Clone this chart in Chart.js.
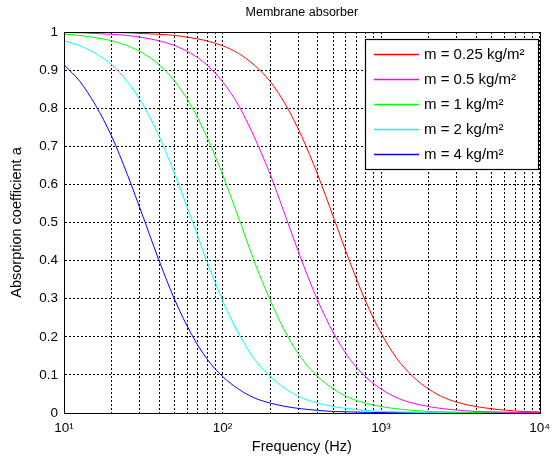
<!DOCTYPE html>
<html>
<head>
<meta charset="utf-8">
<script src="https://cdn.jsdelivr.net/npm/chart.js@4/dist/chart.umd.min.js"></script>
<style>
  html, body { margin: 0; padding: 0; background: #fff; }
  #wrap { width: 557px; height: 459px; }
</style>
</head>
<body>
<div id="wrap"><canvas id="c" width="557" height="459"></canvas></div>
<script>
// frequencies (Hz), roughly 1/10 decade steps
const freqs = [10, 12.6, 15.8, 20, 25.1, 31.6, 39.8, 50.1, 63.1, 79.4,
  100, 126, 158, 200, 251, 316, 398, 501, 631, 794,
  1000, 1259, 1585, 1995, 2512, 3162, 3981, 5012, 6310, 7943, 10000];

const masses = ['0.25', '0.5', '1', '2', '4'];

// absorption coefficient
const alpha025 = [0.9996, 0.9994, 0.9991, 0.9985, 0.998, 0.996, 0.994, 0.991, 0.985, 0.977,
  0.964, 0.944, 0.914, 0.870, 0.808, 0.726, 0.626, 0.514, 0.400, 0.296,
  0.210, 0.143, 0.096, 0.063, 0.040, 0.026, 0.017, 0.011, 0.007, 0.004, 0.003];
const alpha05 = [0.9985, 0.998, 0.996, 0.994, 0.991, 0.985, 0.977, 0.964, 0.944, 0.914,
  0.870, 0.808, 0.726, 0.626, 0.514, 0.400, 0.296, 0.210, 0.143, 0.096,
  0.063, 0.040, 0.026, 0.017, 0.011, 0.007, 0.004, 0.003, 0.002, 0.001, 0.0007];
const alpha1 = [0.994, 0.991, 0.985, 0.977, 0.964, 0.944, 0.914, 0.870, 0.808, 0.726,
  0.626, 0.514, 0.400, 0.296, 0.210, 0.143, 0.096, 0.063, 0.040, 0.026,
  0.017, 0.011, 0.007, 0.004, 0.003, 0.002, 0.001, 0.0007, 0.0004, 0.0003, 0.0002];
const alpha2 = [0.977, 0.964, 0.944, 0.914, 0.870, 0.808, 0.726, 0.626, 0.514, 0.400,
  0.296, 0.210, 0.143, 0.096, 0.063, 0.040, 0.026, 0.017, 0.011, 0.007,
  0.004, 0.003, 0.002, 0.001, 0.001, 0.0007, 0.0004, 0.0003, 0.0002, 0.0001, 0.0001];
const alpha4 = [0.914, 0.870, 0.808, 0.726, 0.626, 0.514, 0.400, 0.296, 0.210, 0.143,
  0.096, 0.063, 0.040, 0.026, 0.017, 0.011, 0.007, 0.004, 0.003, 0.002,
  0.001, 0.001, 0.0004, 0.0003, 0.0002, 0.0001, 0.0001, 0.0001, 0, 0, 0];

const xTickValues = [10, 100, 1000, 10000];
const xTickLabels = ['10\u00b9', '10\u00b2', '10\u00b3', '10\u2074'];
const yTickValues = [0, 0.1, 0.2, 0.3, 0.4, 0.5, 0.6, 0.7, 0.8, 0.9, 1];
const yTickLabels = ['0', '0.1', '0.2', '0.3', '0.4', '0.5', '0.6', '0.7', '0.8', '0.9', '1'];

const series = [alpha025, alpha05, alpha1, alpha2, alpha4];
const colors = ['#ff0000', '#ff00ff', '#00ff00', '#00ffff', '#0000ff'];

const FONT = 'Arial, "Liberation Sans", Helvetica, sans-serif';
Chart.defaults.font.family = FONT;
Chart.defaults.color = '#000';

const datasets = series.map((vals, i) => ({
  label: `m = ${masses[i]} kg/m\u00b2`,
  data: vals.map((v, j) => ({x: freqs[j], y: v})),
  borderColor: colors[i],
  backgroundColor: colors[i],
  borderWidth: 1,
  pointRadius: 0,
  cubicInterpolationMode: 'monotone',
  fill: false
}));

// minor grid positions 1..9 x 10^k
function logGrid(){
  const out = [];
  for (let k = 1; k < 4; k++) for (let d = 1; d < 10; d++) out.push({value: d * Math.pow(10, k)});
  out.push({value: 10000});
  return out;
}

const framePlugin = {
  id: 'frame',
  afterDatasetsDraw(chart){
    const {ctx, chartArea: a} = chart;
    ctx.save();
    // box around the axes
    ctx.strokeStyle = '#000';
    ctx.lineWidth = 1;
    ctx.strokeRect(Math.round(a.left) + 0.5, Math.round(a.top) + 0.5,
      Math.round(a.right - a.left), Math.round(a.bottom - a.top));

    // legend inside the axes, upper right
    const bw = 173, bh = 130;
    const bx = Math.round(a.right) - 2 - bw, by = Math.round(a.top) + 7;
    ctx.fillStyle = '#fff';
    ctx.fillRect(bx, by, bw, bh);
    ctx.lineWidth = 1.2;
    ctx.strokeRect(bx + 0.5, by + 0.5, bw, bh);
    ctx.font = '15px ' + FONT;
    ctx.textBaseline = 'middle';
    ctx.textAlign = 'left';
    chart.data.datasets.forEach((ds, i) => {
      const y = by + 15.5 + i * 25;
      ctx.strokeStyle = colors[i];
      ctx.lineWidth = 1.5;
      ctx.beginPath();
      ctx.moveTo(bx + 9, y);
      ctx.lineTo(bx + 54, y);
      ctx.stroke();
      ctx.fillStyle = '#000';
      ctx.fillText(ds.label, bx + 59, y);
    });

    // title centred over the axes
    ctx.font = '12.5px ' + FONT;
    ctx.textAlign = 'center';
    ctx.fillText('Membrane absorber', (a.left + a.right) / 2, 13);
    ctx.restore();
  }
};

new Chart(document.getElementById('c'), {
  type: 'line',
  data: {datasets},
  options: {
    responsive: false,
    animation: false,
    devicePixelRatio: 1,
    layout: {padding: {top: 32, right: 10, left: 0, bottom: 0}},
    plugins: {legend: {display: false}, tooltip: {enabled: false}},
    scales: {
      x: {
        type: 'logarithmic',
        min: 10, max: 10000,
        afterBuildTicks: s => { s.ticks = logGrid(); },
        afterFit: s => { s.height = 46; },
        ticks: {
          autoSkip: false, maxRotation: 0, padding: 7,
          font: {size: 13.5},
          callback: v => {
            const i = xTickValues.indexOf(v);
            return i >= 0 ? xTickLabels[i] : '';
          }
        },
        grid: {color: '#000', lineWidth: 1, drawTicks: false},
        border: {color: '#000', width: 1, dash: [2, 2]},
        title: {display: true, text: 'Frequency (Hz)', font: {size: 14.5}, padding: {top: 0, bottom: 3}}
      },
      y: {
        type: 'linear',
        min: 0, max: 1,
        afterBuildTicks: s => { s.ticks = yTickValues.map(v => ({value: v})); },
        afterFit: s => { s.width = 64; },
        ticks: {
          padding: 6,
          font: {size: 13.5},
          callback: v => yTickLabels[yTickValues.indexOf(v)] ?? ''
        },
        grid: {color: '#000', lineWidth: 1, drawTicks: false},
        border: {color: '#000', width: 1, dash: [2, 2]},
        title: {display: true, text: 'Absorption coefficient a', font: {size: 14.5}, padding: {top: 8, bottom: 0}}
      }
    }
  },
  plugins: [framePlugin]
});
</script>
</body>
</html>
